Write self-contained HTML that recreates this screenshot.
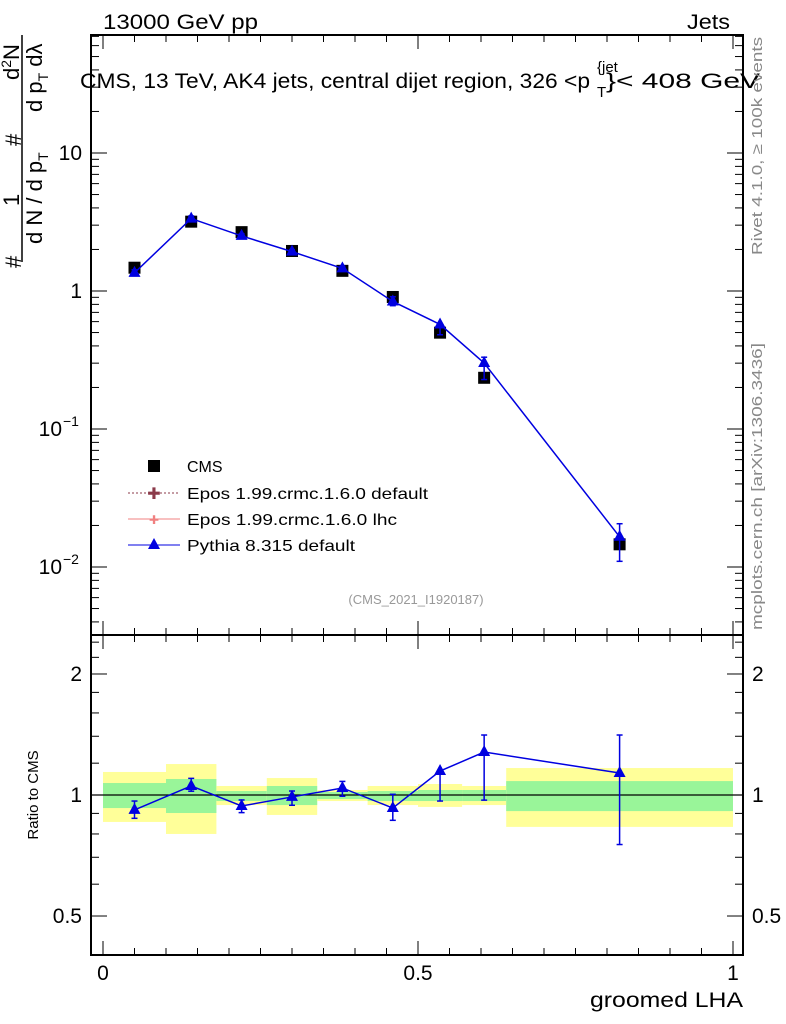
<!DOCTYPE html>
<html><head><meta charset="utf-8"><style>
body{margin:0;background:#fff;}
svg{display:block;font-family:"Liberation Sans",sans-serif;}
</style></head><body>
<svg id="chart" width="786" height="1024" viewBox="0 0 786 1024">
<g id="bands"></g>
<g id="axes"></g>
<g id="marks"></g>
<text x="103" y="29" font-size="21" textLength="155" lengthAdjust="spacingAndGlyphs">13000 GeV pp</text>
<text x="687" y="29" font-size="21" textLength="43" lengthAdjust="spacingAndGlyphs">Jets</text>
<g font-size="21">
<text x="80" y="88" textLength="510" lengthAdjust="spacingAndGlyphs">CMS, 13 TeV, AK4 jets, central dijet region, 326 &lt;p</text>
<text x="597" y="72" font-size="15">{jet</text>
<text x="597" y="97" font-size="15">T</text>
<text x="606" y="88" textLength="154" lengthAdjust="spacingAndGlyphs">}&lt; 408 GeV</text>
</g>
<text x="416" y="604" font-size="13" fill="#999" text-anchor="middle">(CMS_2021_I1920187)</text>
<text transform="translate(762,255) rotate(-90)" font-size="15" fill="#888" textLength="218" lengthAdjust="spacingAndGlyphs">Rivet 4.1.0, ≥ 100k events</text>
<text transform="translate(762,630) rotate(-90)" font-size="15" fill="#888" textLength="287" lengthAdjust="spacingAndGlyphs">mcplots.cern.ch [arXiv:1306.3436]</text>
<text transform="translate(38,795) rotate(-90)" font-size="15" text-anchor="middle">Ratio to CMS</text>
<text x="743" y="1007" font-size="21" text-anchor="end" textLength="153" lengthAdjust="spacingAndGlyphs">groomed LHA</text>
<g font-size="22">
<text transform="translate(21,268) rotate(-90)">#</text>
<text transform="translate(19,206) rotate(-90)">1</text>
<text transform="translate(21,146) rotate(-90)">#</text>
<text transform="translate(19,80) rotate(-90)">d<tspan font-size="14" dy="-8">2</tspan><tspan dy="8">N</tspan></text>
<line x1="22" y1="262" x2="22" y2="35" stroke="#000" stroke-width="1.5"/>
<text transform="translate(42,244) rotate(-90)">d N / d p<tspan font-size="14" dy="6">T</tspan></text>
<text transform="translate(42,112) rotate(-90)">d p<tspan font-size="14" dy="6">T</tspan><tspan dy="-6"> dλ</tspan></text>
</g>
<g id="legend">
<rect x="148" y="460" width="12" height="12" fill="#000"/>
<text x="187" y="472" font-size="16">CMS</text>
<line x1="128" y1="493" x2="180" y2="493" stroke="#8b3a4a" stroke-dasharray="2,2"/>
<text x="154" y="499" font-size="16" fill="#8b3a4a" text-anchor="middle">✚</text>
<text x="187" y="499" font-size="16" textLength="241" lengthAdjust="spacingAndGlyphs">Epos 1.99.crmc.1.6.0 default</text>
<line x1="128" y1="519" x2="180" y2="519" stroke="#f08080"/>
<text x="154" y="524" font-size="12" fill="#f08080" text-anchor="middle">✚</text>
<text x="187" y="525" font-size="16" textLength="210" lengthAdjust="spacingAndGlyphs">Epos 1.99.crmc.1.6.0 lhc</text>
<line x1="128" y1="545" x2="180" y2="545" stroke="#0000e0"/>
<polygon points="154,538 160,549 148,549" fill="#0000e0"/>
<text x="187" y="551" font-size="16" textLength="168" lengthAdjust="spacingAndGlyphs">Pythia 8.315 default</text>
</g>
</svg>
<script>
const binEdges=[0,0.1,0.18,0.26,0.34,0.42,0.5,0.57,0.64,1.0];
const cmsValues=[1.475,3.18,2.67,1.95,1.40,0.905,0.499,0.235,0.0146];
const pythiaRatio=[0.918,1.053,0.939,0.989,1.041,0.928,1.147,1.279,1.134];
const pythiaRatioLo=[0.875,1.022,0.904,0.943,0.993,0.865,0.966,0.971,0.753];
const pythiaRatioHi=[0.966,1.100,0.972,1.023,1.081,1.004,1.151,1.41,1.41];
const yellowLo=[0.857,0.800,0.944,0.892,0.966,0.944,0.934,0.944,0.833];
const yellowHi=[1.141,1.194,1.053,1.102,1.029,1.053,1.065,1.053,1.167];
const greenLo=[0.928,0.902,0.966,0.944,0.977,0.966,0.966,0.966,0.912];
const greenHi=[1.071,1.096,1.023,1.053,1.017,1.023,1.029,1.029,1.083];
const xTicks=[0,0.5,1];
const xTickLabels=["0","0.5","1"];
const ratioTicks=[0.5,1,2];
const ratioTickLabels=["0.5","1","2"];

const NS="http://www.w3.org/2000/svg";
const X=v=>103+630*v;
const Y=v=>291-138*Math.log10(v);
const R=v=>795-402*Math.log10(v);
function mk(par,tag,at){const e=document.createElementNS(NS,tag);for(const k in at)e.setAttribute(k,at[k]);document.getElementById(par).appendChild(e);return e;}
for(let i=0;i<cmsValues.length;i++){
 const x0=X(binEdges[i]),x1=X(binEdges[i+1]);
 const y=mk('bands','rect',{x:x0,y:R(yellowHi[i]),width:x1-x0,height:R(yellowLo[i])-R(yellowHi[i]),fill:'#ffff99'});
 
 
 const g=mk('bands','rect',{x:x0,y:R(greenHi[i]),width:x1-x0,height:R(greenLo[i])-R(greenHi[i]),fill:'#99f599'});
 
 
}
const f1=mk('axes','rect',{x:91,y:35,width:652,height:600,fill:'none',stroke:'#000','stroke-width':2});


const f2=mk('axes','rect',{x:91,y:635,width:652,height:320,fill:'none',stroke:'#000','stroke-width':2});


const ref=mk('axes','line',{x1:91,x2:743,y1:R(1),y2:R(1),stroke:'#000','stroke-width':1.2});


for(let k=0;k<=20;k++){
 const v=k/20;
 const L=(k%10===0)?14:7;
 for(const [yb,yt] of [[635,35],[955,635]]){
  mk('axes','line',{x1:X(v),x2:X(v),y1:yb,y2:yb-L,stroke:'#000'});
  mk('axes','line',{x1:X(v),x2:X(v),y1:yt,y2:yt+L,stroke:'#000'});
 }
}
xTicks.forEach((v,i)=>{const t=mk('axes','text',{x:X(v),y:980,'font-size':21,'text-anchor':'middle'});t.textContent=xTickLabels[i];
 
 });
for(let d=-3;d<=1;d++)for(let m=1;m<=9;m++){const v=m*Math.pow(10,d);const y=Y(v);if(y<35||y>635)continue;
 const L=m===1?16:8;mk('axes','line',{x1:91,x2:91+L,y1:y,y2:y,stroke:'#000'});mk('axes','line',{x1:743,x2:743-L,y1:y,y2:y,stroke:'#000'});}
[[10,'10'],[1,'1']].forEach(([v,s])=>{const t=mk('axes','text',{x:82,y:Y(v)+7,'font-size':21,'text-anchor':'end'});t.textContent=s;
 
 });
[[0.1,'−1'],[0.01,'−2']].forEach(([v,e])=>{const t=mk('axes','text',{x:62,y:Y(v)+7,'font-size':21,'text-anchor':'end'});t.textContent='10';
 
 
 const t2=mk('axes','text',{x:63,y:Y(v)-3,'font-size':14});t2.textContent=e;});
[0.4,0.5,0.6,0.7,0.8,0.9,1,1.2,1.4,1.6,1.8,2,2.2,2.4].forEach(v=>{const big=[0.5,1,2].includes(v);const L=big?16:8;const y=R(v);
 mk('axes','line',{x1:91,x2:91+L,y1:y,y2:y,stroke:'#000'});mk('axes','line',{x1:743,x2:743-L,y1:y,y2:y,stroke:'#000'});});
ratioTicks.forEach((v,i)=>{for(const [x,a] of [[82,'end'],[752,'start']]){const t=mk('axes','text',{x:x,y:R(v)+7,'font-size':21,'text-anchor':a});t.textContent=ratioTickLabels[i];
 
 }});
const cx=i=>X((binEdges[i]+binEdges[i+1])/2);
cmsValues.forEach((v,i)=>{const r=mk('marks','rect',{x:cx(i)-6,y:Y(v)-6,width:12,height:12,fill:'#000'});
 
 });
const py=cmsValues.map((v,i)=>v*pythiaRatio[i]);
const pl=mk('marks','polyline',{points:py.map((v,i)=>cx(i)+','+Y(v)).join(' '),fill:'none',stroke:'#0000e0','stroke-width':1.5});


const rl=mk('marks','polyline',{points:pythiaRatio.map((v,i)=>cx(i)+','+R(v)).join(' '),fill:'none',stroke:'#0000e0','stroke-width':1.5});


function tri(x,y,nm){const p=mk('marks','polygon',{points:`${x},${y-7} ${x+6},${y+4} ${x-6},${y+4}`,fill:'#0000e0'});
 
 }
function err(x,y1,y2){mk('marks','line',{x1:x,x2:x,y1:y1,y2:y2,stroke:'#0000e0','stroke-width':1.5});
 mk('marks','line',{x1:x-3,x2:x+3,y1:y1,y2:y1,stroke:'#0000e0','stroke-width':1.5});mk('marks','line',{x1:x-3,x2:x+3,y1:y2,y2:y2,stroke:'#0000e0','stroke-width':1.5});}
py.forEach((v,i)=>{const lo=cmsValues[i]*pythiaRatioLo[i],hi=cmsValues[i]*pythiaRatioHi[i];err(cx(i),Y(hi),Y(lo));tri(cx(i),Y(v),'pythia-point');});
pythiaRatio.forEach((v,i)=>{err(cx(i),R(pythiaRatioHi[i]),R(pythiaRatioLo[i]));tri(cx(i),R(v),'pythia-ratio-point');});
</script>
</body></html>
